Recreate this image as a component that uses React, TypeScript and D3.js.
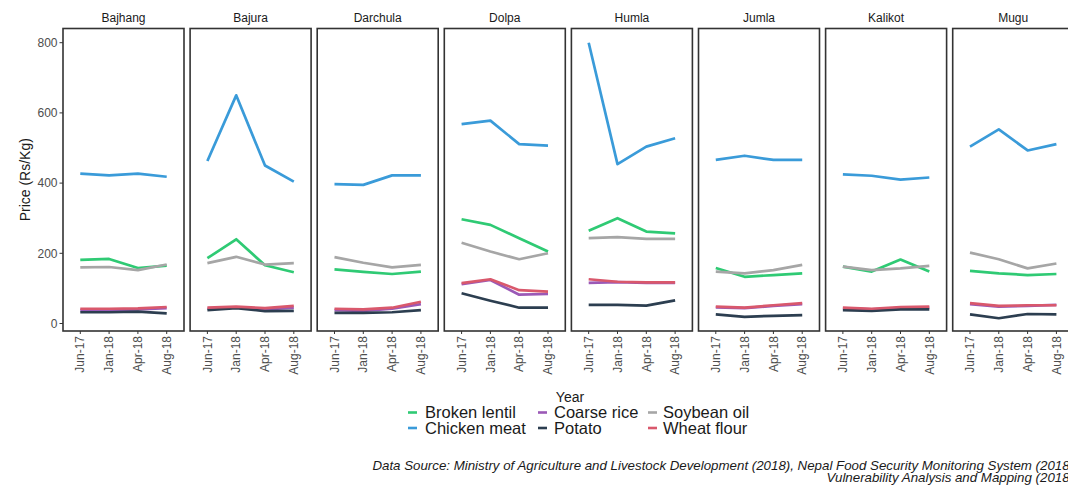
import React from "react";
import * as d3 from "d3";

const districts = ["Bajhang", "Bajura", "Darchula", "Dolpa", "Humla", "Jumla", "Kalikot", "Mugu"];
const periods = ["Jun-17", "Jan-18", "Apr-18", "Aug-18"];
const commodities = ["Broken lentil", "Chicken meat", "Coarse rice", "Potato", "Soybean oil", "Wheat flour"];
const colors = ["#2fca74", "#3a9bd9", "#9b59b6", "#2c3e50", "#a6a6a6", "#d9586c"];
const yTicks = [0, 200, 400, 600, 800];

// values per district (rows) x period (cols)
const brokenLentil = [
  [181, 184, 158, 165],
  [186, 240, 166, 146],
  [154, 147, 141, 148],
  [297, 281, 243, 205],
  [264, 300, 262, 257],
  [158, 133, 138, 143],
  [162, 148, 182, 148],
  [150, 143, 138, 141],
];
const chickenMeat = [
  [427, 422, 427, 418],
  [463, 650, 450, 404],
  [397, 395, 422, 422],
  [568, 578, 511, 507],
  [800, 454, 504, 528],
  [466, 478, 466, 466],
  [425, 421, 410, 416],
  [504, 553, 493, 511],
];
const coarseRice = [
  [38, 38, 40, 44],
  [42, 46, 40, 45],
  [38, 36, 42, 55],
  [112, 124, 82, 84],
  [116, 118, 116, 116],
  [46, 44, 50, 55],
  [43, 40, 44, 45],
  [55, 48, 50, 53],
];
const potato = [
  [32, 32, 34, 29],
  [38, 44, 35, 36],
  [30, 30, 32, 38],
  [86, 65, 45, 45],
  [53, 53, 51, 66],
  [26, 19, 22, 24],
  [38, 36, 40, 40],
  [26, 15, 27, 26],
];
const soybeanOil = [
  [160, 161, 152, 168],
  [172, 190, 168, 172],
  [189, 173, 160, 167],
  [230, 205, 183, 200],
  [243, 246, 241, 241],
  [148, 143, 152, 167],
  [162, 152, 157, 164],
  [202, 183, 157, 171],
];
const wheatFlour = [
  [42, 42, 43, 47],
  [45, 48, 44, 50],
  [42, 40, 45, 62],
  [115, 126, 95, 91],
  [126, 119, 117, 117],
  [48, 45, 52, 58],
  [45, 42, 47, 48],
  [58, 50, 52, 52],
];
const seriesValues = [brokenLentil, chickenMeat, coarseRice, potato, soybeanOil, wheatFlour];

const W = 1068;
const H = 485;
const panelLeft0 = 63;
const panelW = 121;
const panelStride = 127.1;
const panelTop = 28.5;
const panelBottom = 331;
const font = "'Liberation Sans', Arial, Helvetica, sans-serif";

export default function App() {
  const y = d3.scaleLinear().domain([0, 800]).range([323.5, 42.7]);
  const line = d3
    .line<[number, number]>()
    .x((d) => d[0])
    .y((d) => d[1]);

  return (
    <svg
      width={W}
      height={H}
      style={{ position: "absolute", left: 0, top: 0, background: "#fff" }}
      fontFamily={font}
    >
      {/* y axis */}
      {yTicks.map((t) => (
        <g key={t}>
          <line x1={59.5} x2={63} y1={y(t)} y2={y(t)} stroke="#333" strokeWidth={1} />
          <text x={57.5} y={y(t)} dy="0.35em" textAnchor="end" fontSize={12} fill="#4d4d4d">
            {t}
          </text>
        </g>
      ))}
      <text
        transform={`translate(25,${(panelTop + panelBottom) / 2}) rotate(-90)`}
        textAnchor="middle"
        dy="0.35em"
        fontSize={14}
        fill="#1a1a1a"
      >
        Price (Rs/Kg)
      </text>

      {districts.map((dist, di) => {
        const x0 = panelLeft0 + di * panelStride;
        const x = d3.scalePoint<string>().domain(periods).range([x0, x0 + panelW]).padding(0.6);
        return (
          <g key={dist}>
            <text x={x0 + panelW / 2} y={18} textAnchor="middle" dy="0.35em" fontSize={12} fill="#1a1a1a">
              {dist}
            </text>
            {seriesValues.map((vals, si) => (
              <path
                key={si}
                d={line(periods.map((p, pi) => [x(p) as number, y(vals[di][pi])])) || ""}
                fill="none"
                stroke={colors[si]}
                strokeWidth={2.7}
                strokeLinejoin="round"
              />
            ))}
            <rect
              x={x0}
              y={panelTop}
              width={panelW}
              height={panelBottom - panelTop}
              fill="none"
              stroke="#333"
              strokeWidth={1.6}
            />
            {periods.map((p) => (
              <g key={p}>
                <line x1={x(p)} x2={x(p)} y1={panelBottom} y2={panelBottom + 3} stroke="#333" strokeWidth={1} />
                <text
                  transform={`translate(${(x(p) as number)},${panelBottom + 5}) rotate(-90)`}
                  textAnchor="end"
                  dy="0.35em"
                  fontSize={12}
                  fill="#4d4d4d"
                >
                  {p}
                </text>
              </g>
            ))}
          </g>
        );
      })}

      <text x={570} y={397} textAnchor="middle" dy="0.35em" fontSize={14} fill="#1a1a1a">
        Year
      </text>

      {/* legend */}
      {commodities.map((c, i) => {
        const col = Math.floor(i / 2);
        const row = i % 2;
        const keyX = [408, 538, 648][col];
        const textX = [425, 554, 663][col];
        const yy = 412.5 + row * 15.5;
        return (
          <g key={c}>
            <line x1={keyX} x2={keyX + 9} y1={yy} y2={yy} stroke={colors[i]} strokeWidth={2.6} />
            <text x={textX} y={yy} dy="0.35em" fontSize={16.5} fill="#1a1a1a">
              {c}
            </text>
          </g>
        );
      })}

      <text x={1074} y={465} dy="0.35em" textAnchor="end" fontSize={13.3} fontStyle="italic" fill="#1a1a1a">
        Data Source: Ministry of Agriculture and Livestock Development (2018), Nepal Food Security Monitoring System (2018)
      </text>
      <text x={1074} y={477} dy="0.35em" textAnchor="end" fontSize={13.3} fontStyle="italic" fill="#1a1a1a">
        Vulnerability Analysis and Mapping (2018)
      </text>
    </svg>
  );
}
